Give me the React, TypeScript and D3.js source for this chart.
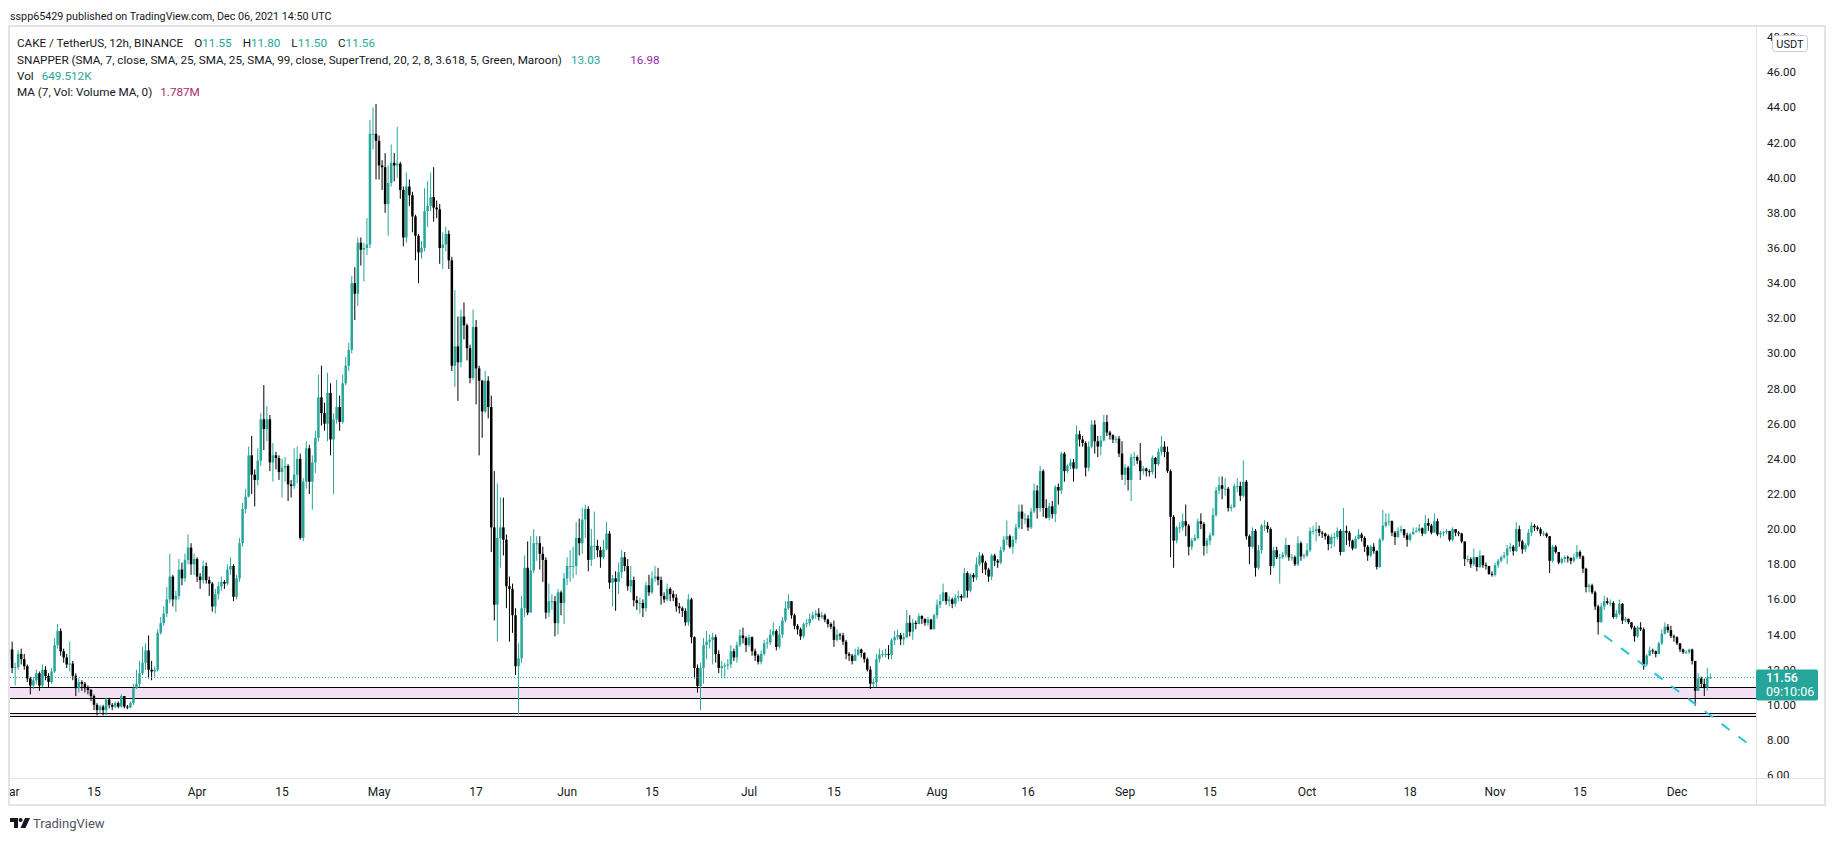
import { useEffect, useRef } from "react"
import * as d3 from "d3"

const WIDTH = 1834
const HEIGHT = 841

// CAKE / USDT 12h candles, oldest first. Last bar opens Dec 06 2021 12:00 UTC.
const lastBarTime = "2021-12-06T12:00:00Z"
const firstOpen = 12.6

const closes = [
  13.15, 12.1, 12.15, 12.9, 12.6, 12.2, 11.5, 11.1, 11.4, 11.8,
  11.1, 12.0, 11.65, 11.3, 11.9, 13.4, 14.2, 13.05, 12.7, 12.3,
  12.35, 11.65, 10.95, 11.3, 11.2, 10.95, 10.85, 10.5, 10.0, 9.7,
  9.9, 9.7, 10.3, 10.0, 9.9, 10.1, 9.9, 10.5, 9.9, 9.85,
  10.1, 10.95, 11.2, 11.8, 12.4, 13.1, 12.0, 11.9, 12.0, 14.1,
  14.65, 15.2, 16.0, 17.3, 16.0, 16.2, 17.7, 17.2, 18.25, 18.95,
  18.0, 18.3, 17.3, 17.1, 17.9, 17.1, 16.9, 15.6, 16.3, 16.75,
  17.0, 16.9, 17.7, 17.9, 16.15, 17.2, 19.2, 21.15, 21.85, 24.2,
  23.1, 22.8, 23.9, 26.25, 25.7, 26.25, 23.8, 24.2, 24.05, 23.25,
  23.5, 23.6, 22.55, 22.45, 23.1, 24.0, 19.5, 22.7, 24.6, 22.7,
  23.8, 25.2, 27.5, 26.6, 26.0, 27.75, 25.1, 26.25, 26.95, 26.1,
  28.3, 29.3, 30.2, 34.0, 33.4, 36.3, 35.9, 36.0, 36.2, 42.5,
  42.5, 42.1, 40.7, 40.6, 38.5, 39.7, 40.85, 40.7, 40.8, 39.3,
  36.6, 39.5, 39.0, 37.8, 36.7, 35.75, 36.0, 38.1, 38.4, 38.9,
  38.3, 38.2, 36.0, 36.2, 36.8, 35.3,
  // May - July
  29.3, 30.4, 29.5, 32.1, 31.6, 30.3, 28.6, 31.5, 29.15, 28.45,
  26.7, 28.45, 26.95, 20.1, 15.7, 19.5, 20.1, 19.4, 16.75, 16.6,
  15.1, 12.2, 12.65, 15.5, 17.8, 15.25, 17.65, 19.2, 19.2, 18.6,
  18.25, 15.25, 15.9, 15.9, 14.65, 16.4, 15.8, 17.2, 17.9, 17.9,
  17.9, 19.5, 19.2, 20.55, 21.15, 18.25, 19.05, 19.05, 18.8, 18.4,
  18.85, 19.75, 16.95, 17.2, 17.0, 17.55, 18.4, 17.9, 16.75, 17.1,
  15.95, 15.8, 15.8, 15.5, 16.8, 16.4, 17.2, 17.3, 17.1, 16.2,
  16.0, 16.6, 16.3, 16.1, 15.6, 15.5, 15.35, 14.7, 16.0, 13.85,
  12.1, 11.07, 12.1, 13.4, 13.6, 13.7, 13.85, 12.9, 12.1, 12.2,
  12.25, 12.3, 13.05, 12.7, 13.4, 13.95, 13.8, 13.4, 13.85, 13.05,
  12.8, 12.45, 12.9, 13.5, 13.55, 14.0, 14.2, 13.3, 14.0, 14.8,
  15.5, 15.9, 15.1, 14.5, 14.3, 13.9, 14.6, 14.65, 14.9, 15.1,
  15.2, 15.0, 15.1, 14.85, 14.6, 14.45, 13.7, 14.0, 13.95, 13.6,
  12.9, 12.8, 12.5, 12.85, 13.15, 12.95, 12.6, 12.0, 11.2, 11.3,
  // late July - October
  12.6, 12.87, 12.9, 12.9, 12.85, 13.67, 13.85, 13.97, 13.73, 13.85,
  14.67, 14.16, 14.67, 14.6, 15.05, 14.9, 14.67, 14.85, 14.3, 15.1,
  15.7, 15.9, 16.4, 15.9, 16.0, 15.75, 16.1, 16.2, 16.1, 17.5,
  16.5, 17.4, 17.25, 18.0, 18.5, 18.1, 17.7, 17.3, 18.5, 18.2,
  18.1, 18.8, 19.4, 19.6, 19.0, 19.4, 20.1, 21.0, 20.6, 20.6,
  20.1, 21.0, 22.2, 21.2, 23.3, 21.2, 20.65, 21.3, 20.85, 22.4,
  22.2, 24.3, 23.3, 23.6, 23.8,
  23.45, 25.4, 25.1, 24.9, 23.5, 24.7, 25.95, 25.0, 24.7, 25.05,
  26.1, 25.5, 25.35, 25.1, 25.15, 24.3, 23.1, 23.5, 22.8, 24.1,
  24.1, 23.9, 23.3, 23.45, 23.3, 23.25, 24.05, 23.7, 24.4, 24.7,
  24.4, 23.3, 20.7, 19.35, 20.1, 20.1, 20.45, 20.2, 19.0, 19.35,
  19.5, 20.45, 20.3, 19.05, 19.35, 19.65, 20.8, 22.2, 22.5, 22.3,
  22.3, 21.2, 21.25, 22.45, 22.45, 21.9, 22.7, 19.6, 19.0, 19.9,
  17.8, 18.8, 20.2, 20.2, 20.0, 17.9, 18.8, 18.4, 18.4, 18.55,
  19.1, 18.4, 18.4, 18.0, 19.2, 18.45, 18.5, 18.8, 19.9,
  // October - December
  19.9, 20.0, 19.8, 19.75, 19.6, 19.15, 19.55, 19.55, 19.9, 18.7,
  19.9, 19.8, 19.35, 18.9, 19.45, 19.7, 19.5, 19.0, 18.5, 19.0,
  18.75, 17.85, 19.4, 20.2, 20.4, 20.45, 19.8, 19.55, 19.9, 20.0, 19.65,
  19.4, 19.7, 19.85, 19.9, 20.05, 19.75, 20.35, 20.2, 19.8, 20.45,
  19.7, 19.8, 19.85, 19.9, 19.4, 20.0, 19.8, 19.75,
  19.3, 18.3, 18.3, 18.0, 18.4, 17.85, 18.5, 17.95, 17.9, 17.45, 17.4, 17.95, 18.2, 18.4,
  18.5, 18.9, 19.0, 18.75, 20.0, 19.3, 18.85, 19.1, 19.8, 20.2,
  20.1, 20.0, 19.75, 19.75, 19.6, 18.2, 19.0, 18.7, 18.1, 18.3,
  18.4, 18.35, 18.2, 18.4, 18.7, 18.45, 17.75, 16.7, 16.8, 16.4,
  15.6, 14.7, 15.6, 15.9, 15.8, 15.8, 15.0, 15.2, 15.75, 14.8,
  14.9, 14.7, 14.4, 13.9, 14.4, 14.3, 12.3, 12.8, 13.1, 13.05,
  12.9, 13.5, 14.05, 14.45, 14.25, 13.9, 13.85, 13.5, 13.15, 13.0,
  13.0, 13.15, 12.5, 10.8, 11.5, 11.2, 11.0, 11.55, 11.56,
]

const highs = [
  13.4, 13.6, 12.4, 13.1, 13.2, 12.9, 12.3, 11.6, 11.6, 12.0,
  11.9, 12.3, 12.2, 11.8, 12.1, 13.8, 14.6, 14.35, 13.2, 12.9,
  13.6, 12.5, 11.8, 11.5, 11.4, 11.3, 11.1, 10.9, 10.6, 10.1,
  10.0, 10.0, 10.4, 10.4, 10.1, 10.2, 10.2, 10.6, 10.5, 10.0,
  10.2, 11.2, 12.0, 12.5, 13.3, 13.5, 13.95, 12.5, 12.2, 14.3,
  15.0, 15.6, 16.7, 18.6, 17.4, 16.5, 18.3, 18.1, 18.6, 19.7,
  19.2, 18.6, 18.4, 17.5, 18.2, 18.1, 17.3, 17.0, 16.6, 17.0,
  17.3, 17.1, 18.0, 18.4, 18.0, 17.4, 19.5, 21.5, 22.3, 24.7,
  25.3, 23.4, 24.6, 26.6, 28.2, 27.0, 26.5, 24.9, 24.4, 24.2,
  24.0, 24.1, 23.7, 22.8, 24.6, 24.7, 24.3, 22.9, 25.0, 24.8,
  24.2, 25.6, 28.8, 29.3, 27.2, 28.9, 28.3, 26.6, 28.5, 27.6,
  28.8, 29.8, 30.6, 34.4, 34.9, 36.6, 36.6, 36.3, 37.7, 43.3,
  44.0, 44.2, 42.4, 41.0, 41.4, 40.7, 41.9, 41.4, 42.9, 40.9,
  39.5, 40.3, 39.9, 39.2, 37.9, 36.8, 36.4, 39.4, 39.8, 40.3,
  40.6, 38.7, 38.5, 36.9, 37.2, 37.0,
  35.5, 33.6, 32.1, 32.5, 32.9, 31.7, 30.5, 32.5, 31.9, 29.3,
  28.5, 29.0, 28.7, 27.6, 23.3, 22.6, 21.8, 21.8, 19.7, 17.3,
  16.9, 15.5, 13.5, 16.2, 18.5, 19.3, 19.6, 20.0, 19.6, 19.6,
  19.0, 18.4, 16.9, 16.3, 16.2, 16.6, 16.5, 17.5, 18.4, 18.8,
  19.0, 20.4, 20.6, 21.2, 21.4, 21.3, 20.0, 21.0, 19.4, 19.0,
  19.4, 20.4, 19.9, 17.4, 17.6, 18.1, 18.8, 18.7, 18.3, 17.9,
  17.3, 16.2, 16.1, 16.0, 17.0, 17.4, 17.6, 17.9, 17.8, 17.3,
  16.4, 16.9, 16.7, 16.5, 16.3, 15.8, 15.6, 15.5, 16.3, 16.1,
  13.9, 12.3, 12.4, 13.8, 14.2, 14.0, 14.1, 14.0, 13.1, 12.5,
  12.4, 12.6, 13.4, 13.2, 13.6, 14.3, 14.4, 13.9, 14.0, 13.9,
  13.2, 12.9, 13.1, 13.7, 13.8, 14.3, 14.7, 14.3, 14.5, 15.0,
  15.9, 16.3, 15.9, 15.2, 14.6, 14.4, 14.7, 14.9, 15.2, 15.3,
  15.4, 15.5, 15.3, 15.2, 14.9, 14.7, 14.8, 14.3, 14.1, 14.1,
  13.7, 13.0, 12.9, 13.2, 13.3, 13.2, 13.0, 12.7, 12.2, 11.5,
  12.9, 13.2, 13.1, 13.2, 13.4, 13.8, 14.2, 14.3, 14.1, 14.1,
  15.4, 15.1, 14.9, 14.8, 15.2, 15.1, 14.9, 15.0, 14.9, 15.2,
  16.0, 16.3, 16.9, 16.4, 16.2, 16.1, 16.3, 16.5, 16.3, 17.8,
  17.6, 17.5, 17.5, 18.4, 18.7, 18.6, 18.2, 17.8, 18.6, 18.6,
  18.3, 19.0, 19.6, 20.5, 19.7, 19.6, 20.3, 21.4, 21.4, 20.9,
  20.8, 21.2, 22.6, 22.5, 23.6, 23.4, 21.7, 21.5, 21.6, 22.5,
  22.6, 24.4, 24.4, 23.7, 24.0,
  24.0, 25.9, 25.6, 25.3, 25.0, 25.0, 26.2, 26.2, 25.3, 25.3,
  26.5, 26.5, 25.6, 25.4, 25.3, 25.3, 25.0, 23.7, 23.6, 24.3,
  24.4, 24.2, 24.9, 23.6, 23.5, 23.4, 24.2, 24.1, 24.6, 25.3,
  25.0, 24.7, 23.4, 20.8, 20.2, 20.4, 20.9, 21.4, 20.3, 19.5,
  19.7, 20.6, 20.9, 20.4, 19.5, 19.8, 21.2, 22.4, 23.0, 23.0,
  22.9, 22.4, 21.4, 22.6, 22.9, 22.7, 23.9, 22.8, 19.7, 20.1,
  20.0, 19.1, 20.3, 20.5, 20.4, 20.1, 19.0, 19.0, 18.6, 18.7,
  19.5, 19.1, 18.6, 18.5, 19.6, 19.3, 18.6, 19.2, 20.1,
  20.2, 20.4, 20.2, 19.9, 19.8, 19.7, 19.7, 19.8, 20.1, 20.0,
  21.2, 20.2, 19.9, 19.4, 19.6, 20.0, 19.8, 19.6, 19.1, 19.1,
  19.2, 18.8, 19.5, 21.1, 20.9, 20.9, 20.5, 19.9, 20.1, 20.2, 20.0,
  19.8, 19.8, 20.1, 20.1, 20.3, 20.1, 20.8, 20.6, 20.3, 20.9,
  20.6, 19.9, 19.9, 20.0, 19.9, 20.1, 20.0, 19.9,
  19.8, 19.3, 18.5, 18.4, 18.9, 18.4, 18.8, 18.5, 18.1, 17.9, 17.6, 18.1, 18.3, 18.5,
  18.7, 19.1, 19.2, 19.1, 20.4, 20.2, 19.4, 19.2, 20.0, 20.4,
  20.3, 20.2, 20.1, 19.9, 19.8, 19.6, 19.1, 19.1, 18.7, 18.4,
  18.5, 18.5, 18.4, 18.6, 19.1, 18.8, 18.5, 17.8, 16.9, 16.9,
  16.5, 15.7, 15.8, 16.2, 16.1, 16.0, 15.9, 15.4, 16.0, 15.8,
  15.0, 14.9, 14.7, 14.5, 14.5, 14.7, 14.4, 12.9, 13.3, 13.2,
  13.1, 13.6, 14.3, 14.7, 14.6, 14.5, 14.0, 13.9, 13.5, 13.2,
  13.1, 13.2, 13.2, 12.5, 11.8, 11.6, 11.5, 12.1, 11.8,
]

const lows = [
  11.9, 11.8, 11.1, 12.0, 12.3, 12.0, 11.3, 10.6, 10.9, 11.2,
  10.8, 11.0, 11.4, 11.0, 11.2, 11.8, 13.2, 12.8, 12.4, 12.1,
  11.9, 11.4, 10.5, 10.7, 10.8, 10.7, 10.6, 10.2, 9.7, 9.4,
  9.5, 9.4, 9.4, 9.8, 9.7, 9.8, 9.8, 9.85, 9.8, 9.75,
  9.8, 10.0, 10.9, 11.0, 11.7, 12.0, 11.5, 11.4, 11.6, 11.9,
  14.0, 14.5, 15.0, 15.8, 15.6, 15.3, 16.0, 16.8, 17.0, 18.0,
  17.4, 17.4, 17.0, 16.6, 16.9, 16.9, 16.2, 15.3, 15.2, 16.0,
  16.5, 16.6, 16.8, 17.4, 15.9, 16.0, 17.0, 19.0, 20.9, 21.8,
  22.0, 21.3, 22.5, 23.6, 24.5, 25.0, 23.3, 22.7, 23.4, 22.8,
  21.8, 22.7, 21.6, 21.8, 22.3, 22.6, 19.4, 19.3, 22.3, 22.0,
  21.1, 23.2, 25.0, 25.9, 25.6, 25.0, 24.2, 22.0, 26.0, 25.6,
  26.0, 28.2, 29.0, 30.0, 31.9, 32.7, 35.0, 34.1, 35.6, 36.0,
  41.6, 39.9, 39.9, 39.3, 38.0, 36.7, 39.5, 39.8, 40.0, 38.8,
  36.1, 36.3, 38.4, 36.9, 35.3, 34.0, 35.4, 35.8, 37.2, 38.1,
  37.5, 37.7, 35.1, 34.8, 35.8, 34.8,
  29.0, 28.1, 27.3, 29.2, 30.8, 29.6, 28.3, 28.5, 27.1, 24.2,
  25.2, 26.6, 26.3, 18.7, 14.8, 13.6, 17.8, 18.5, 15.5, 13.6,
  14.1, 11.7, 9.45, 12.4, 15.0, 15.1, 15.4, 17.5, 18.2, 17.7,
  17.0, 14.9, 15.0, 15.4, 13.9, 14.0, 15.1, 14.6, 16.8, 17.0,
  17.2, 17.4, 18.5, 18.6, 19.5, 17.6, 17.9, 18.3, 18.4, 17.8,
  18.3, 18.8, 16.6, 15.6, 15.35, 16.3, 17.2, 17.6, 16.5, 16.4,
  15.6, 15.4, 15.2, 15.0, 15.3, 16.2, 16.3, 17.0, 16.8, 15.7,
  15.8, 15.9, 15.9, 15.9, 15.3, 15.2, 15.0, 14.5, 14.5, 13.5,
  11.5, 10.7, 9.7, 11.2, 12.6, 13.2, 12.3, 12.4, 11.8, 11.5,
  11.5, 12.0, 12.1, 12.5, 12.4, 13.3, 13.5, 13.0, 13.3, 12.8,
  12.5, 12.3, 12.3, 12.8, 13.2, 13.4, 13.9, 13.1, 13.2, 13.8,
  14.7, 15.4, 14.9, 14.3, 14.0, 13.7, 13.8, 14.4, 14.5, 14.8,
  14.9, 14.8, 14.9, 14.7, 14.4, 14.3, 13.3, 13.6, 13.7, 13.4,
  12.6, 12.5, 12.3, 12.6, 12.8, 12.7, 12.4, 11.9, 10.9, 11.0,
  11.0, 12.4, 12.7, 12.7, 12.6, 12.6, 13.4, 13.7, 13.4, 13.4,
  13.8, 13.9, 13.7, 14.3, 14.6, 14.6, 14.5, 14.5, 14.3, 14.3,
  14.9, 15.5, 15.9, 15.7, 15.6, 15.5, 15.6, 15.9, 15.9, 16.1,
  16.1, 16.4, 17.0, 17.1, 17.9, 17.5, 17.4, 17.0, 17.1, 17.9,
  17.8, 18.0, 18.7, 19.1, 18.9, 18.6, 19.2, 20.0, 20.0, 20.3,
  19.9, 20.0, 20.9, 20.6, 21.0, 20.7, 20.6, 20.5, 20.6, 20.4,
  21.4, 22.0, 22.7, 23.2, 23.4,
  22.7, 23.4, 24.7, 24.7, 23.0, 23.3, 24.6, 24.3, 24.1, 24.2,
  25.0, 25.3, 25.1, 24.9, 24.9, 24.1, 22.8, 22.5, 22.2, 21.6,
  23.6, 23.7, 22.8, 23.1, 23.0, 23.0, 23.1, 22.9, 23.6, 24.2,
  24.1, 23.2, 18.4, 17.8, 19.2, 19.8, 19.9, 19.6, 18.5, 18.8,
  19.3, 19.4, 20.0, 18.5, 18.6, 19.1, 19.6, 20.7, 22.0, 21.7,
  21.9, 21.0, 21.0, 21.2, 22.1, 21.6, 21.8, 19.4, 18.0, 18.9,
  17.3, 17.7, 18.6, 19.9, 19.8, 17.4, 17.8, 18.3, 16.9, 18.3,
  18.4, 18.2, 18.2, 17.9, 17.9, 18.2, 18.3, 18.4, 18.7,
  19.7, 19.3, 19.6, 19.5, 19.4, 18.8, 18.9, 19.0, 19.4, 18.5,
  18.7, 19.1, 19.0, 18.8, 18.9, 19.4, 19.3, 18.7, 18.2, 18.4,
  18.6, 17.7, 17.8, 19.3, 20.1, 20.2, 19.6, 19.1, 19.5, 19.8, 19.5,
  19.0, 19.3, 19.7, 19.8, 19.8, 19.6, 19.7, 19.9, 19.7, 19.8,
  19.6, 19.5, 19.6, 19.7, 19.3, 19.3, 19.6, 19.6,
  19.2, 17.9, 18.1, 17.8, 17.9, 17.6, 17.8, 17.8, 17.7, 17.4, 17.3, 17.3, 17.8, 18.1,
  18.3, 18.0, 18.7, 18.5, 18.7, 19.0, 18.6, 18.7, 19.0, 19.6,
  19.9, 19.9, 19.6, 19.6, 19.5, 17.5, 18.1, 18.6, 18.0, 18.0,
  18.1, 18.1, 18.0, 18.1, 18.3, 18.3, 17.5, 16.4, 16.4, 16.3,
  15.4, 14.0, 14.7, 15.4, 15.7, 15.6, 14.9, 14.9, 15.1, 14.6,
  14.7, 14.6, 14.3, 13.6, 13.8, 14.2, 12.0, 12.2, 12.8, 12.9,
  12.7, 12.9, 13.4, 14.0, 14.1, 13.8, 13.6, 13.4, 13.0, 12.9,
  12.9, 12.9, 12.3, 9.95, 10.8, 11.0, 10.5, 10.8, 11.5,
]

const priceTicks = [6, 8, 10, 12, 14, 16, 18, 20, 22, 24, 26, 28, 30, 32, 34, 36, 38, 40, 42, 44, 46, 48]

const timeTicks: [string, string][] = [
  ["2021-03-01", "Mar"], ["2021-03-15", "15"], ["2021-04-01", "Apr"], ["2021-04-15", "15"],
  ["2021-05-01", "May"], ["2021-05-17", "17"], ["2021-06-01", "Jun"], ["2021-06-15", "15"],
  ["2021-07-01", "Jul"], ["2021-07-15", "15"], ["2021-08-01", "Aug"], ["2021-08-16", "16"],
  ["2021-09-01", "Sep"], ["2021-09-15", "15"], ["2021-10-01", "Oct"], ["2021-10-18", "18"],
  ["2021-11-01", "Nov"], ["2021-11-15", "15"], ["2021-12-01", "Dec"],
]

// drawn rectangles (support zones) and the dashed trend line
const zones = [
  [10.37, 11.0],
  [9.35, 9.52],
]
const trendPoints = [
  { date: "2021-11-19T00:00:00Z", price: 13.95 },
  { date: "2021-12-13T10:00:00Z", price: 7.6 },
]

const lastPrice = 11.56
const countdown = "09:10:06"

const UP = "#26a69a"
const DOWN = "#000000"
const TEXT = "#131722"
const BORDER = "#e0e3eb"
const FONT = "Roboto, 'Noto Sans', sans-serif"

interface Candle {
  date: Date
  o: number
  h: number
  l: number
  c: number
}

const App = () => {
  const svgRef = useRef<SVGSVGElement | null>(null)

  useEffect(() => {
    if (!svgRef.current) return
    const svg = d3.select(svgRef.current)
    svg.selectAll("*").remove()

    const plot = { left: 10, right: 1756, top: 27, bottom: 778 }

    const x = d3
      .scaleUtc()
      .domain([new Date("2021-03-15T00:00:00Z"), new Date("2021-12-01T00:00:00Z")])
      .range([94, 1677])
    const y = d3.scaleLinear().domain([8, 46]).range([740, 72.3])

    const n = Math.min(closes.length, highs.length, lows.length)
    const lastT = new Date(lastBarTime).getTime()
    const candles: Candle[] = closes.slice(0, n).map((c, i) => {
      const o = i === 0 ? firstOpen : closes[i - 1]
      return {
        date: new Date(lastT - (n - 1 - i) * 12 * 3600 * 1000),
        o,
        c,
        h: Math.max(highs[i], o, c),
        l: Math.min(lows[i], o, c),
      }
    })

    svg.append("rect").attr("width", WIDTH).attr("height", HEIGHT).attr("fill", "#fff")

    // header
    const header = svg
      .append("text")
      .attr("x", 10)
      .attr("y", 19.5)
      .attr("font-family", FONT)
      .attr("font-size", 12)
      .attr("fill", TEXT)
      .text("sspp65429 published on TradingView.com, Dec 06, 2021 14:50 UTC")
    const headerLen = (header.node() as SVGTextElement).getComputedTextLength() || 350
    header.attr("font-size", (12 * 322) / headerLen)
    const fs = (12 * 350) / headerLen

    // clip for plot area
    svg
      .append("clipPath")
      .attr("id", "plot-clip")
      .append("rect")
      .attr("x", plot.left)
      .attr("y", plot.top)
      .attr("width", plot.right - plot.left)
      .attr("height", plot.bottom - plot.top)

    const g = svg.append("g").attr("clip-path", "url(#plot-clip)")

    // zones
    zones.forEach(([lo, hi]) => {
      g.append("rect")
        .attr("x", plot.left)
        .attr("y", y(hi))
        .attr("width", plot.right - plot.left)
        .attr("height", y(lo) - y(hi))
        .attr("fill", "#f1e1f3")
      ;[lo, hi].forEach((p) => {
        g.append("line")
          .attr("x1", plot.left)
          .attr("x2", plot.right)
          .attr("y1", Math.round(y(p)) + 0.5)
          .attr("y2", Math.round(y(p)) + 0.5)
          .attr("stroke", "#000")
          .attr("stroke-width", 1.2)
      })
    })

    // wicks
    g.selectAll(".wick")
      .data(candles)
      .join("line")
      .attr("class", "wick")
      .attr("x1", (d) => x(d.date))
      .attr("x2", (d) => x(d.date))
      .attr("y1", (d) => y(d.h))
      .attr("y2", (d) => y(d.l))
      .attr("stroke", (d) => (d.c >= d.o ? UP : DOWN))
      .attr("stroke-width", 1)

    // bodies
    const bw = 2.5
    g.selectAll(".body")
      .data(candles)
      .join("rect")
      .attr("class", "body")
      .attr("x", (d) => x(d.date) - bw / 2)
      .attr("y", (d) => y(Math.max(d.o, d.c)))
      .attr("width", bw)
      .attr("height", (d) => Math.max(1, Math.abs(y(d.o) - y(d.c))))
      .attr("fill", (d) => (d.c >= d.o ? UP : DOWN))

    // last price dotted line
    g.append("line")
      .attr("x1", plot.left)
      .attr("x2", plot.right)
      .attr("y1", y(lastPrice))
      .attr("y2", y(lastPrice))
      .attr("stroke", UP)
      .attr("stroke-width", 1)
      .attr("stroke-dasharray", "1 2")

    // dashed trend line
    const trend = d3
      .line<{ date: string; price: number }>()
      .x((d) => x(new Date(d.date)))
      .y((d) => y(d.price))
    g.append("path")
      .datum(trendPoints)
      .attr("d", trend)
      .attr("fill", "none")
      .attr("stroke", "#26c6da")
      .attr("stroke-width", 2)
      .attr("stroke-dasharray", "10 11")

    // frame
    svg
      .append("rect")
      .attr("x", 9)
      .attr("y", 26)
      .attr("width", 1816)
      .attr("height", 779)
      .attr("fill", "none")
      .attr("stroke", BORDER)
      .attr("stroke-width", 2)
    svg
      .append("line")
      .attr("x1", plot.right + 0.5)
      .attr("x2", plot.right + 0.5)
      .attr("y1", 26)
      .attr("y2", 805)
      .attr("stroke", BORDER)
    svg
      .append("line")
      .attr("x1", 9)
      .attr("x2", 1825)
      .attr("y1", plot.bottom + 0.5)
      .attr("y2", plot.bottom + 0.5)
      .attr("stroke", BORDER)

    // price axis
    svg
      .append("clipPath")
      .attr("id", "axis-clip")
      .append("rect")
      .attr("x", plot.right + 1)
      .attr("y", plot.top)
      .attr("width", 68)
      .attr("height", plot.bottom - plot.top)
    const ya = svg.append("g").attr("clip-path", "url(#axis-clip)")
    ya.selectAll("text")
      .data(priceTicks)
      .join("text")
      .attr("x", 1767)
      .attr("y", (d) => y(d) + 4)
      .attr("font-family", FONT)
      .attr("font-size", 11.5)
      .attr("fill", TEXT)
      .text((d) => d3.format(".2f")(d))

    // USDT badge
    svg
      .append("rect")
      .attr("x", 1772.5)
      .attr("y", 35.5)
      .attr("width", 35)
      .attr("height", 16)
      .attr("rx", 3)
      .attr("fill", "#fff")
      .attr("stroke", "#c9cbd1")
    svg
      .append("text")
      .attr("x", 1790)
      .attr("y", 47.5)
      .attr("text-anchor", "middle")
      .attr("font-family", FONT)
      .attr("font-size", 11)
      .attr("fill", TEXT)
      .text("USDT")

    // last price label
    svg
      .append("rect")
      .attr("x", plot.right)
      .attr("y", y(lastPrice) - 8)
      .attr("width", 62)
      .attr("height", 31)
      .attr("rx", 2)
      .attr("fill", UP)
    svg
      .append("text")
      .attr("x", 1766)
      .attr("y", y(lastPrice) + 5)
      .attr("font-family", FONT)
      .attr("font-size", 12.5)
      .attr("font-weight", 500)
      .attr("fill", "#fff")
      .text(d3.format(".2f")(lastPrice))
    svg
      .append("text")
      .attr("x", 1766)
      .attr("y", y(lastPrice) + 19)
      .attr("font-family", FONT)
      .attr("font-size", 12.5)
      .attr("fill", "#fff")
      .text(countdown)

    // time axis
    svg
      .append("clipPath")
      .attr("id", "time-clip")
      .append("rect")
      .attr("x", plot.left)
      .attr("y", plot.bottom)
      .attr("width", plot.right - plot.left)
      .attr("height", 27)
    svg
      .append("g")
      .attr("clip-path", "url(#time-clip)")
      .selectAll("text")
      .data(timeTicks)
      .join("text")
      .attr("x", (d) => x(new Date(d[0] + "T00:00:00Z")))
      .attr("y", 796)
      .attr("text-anchor", "middle")
      .attr("font-family", FONT)
      .attr("font-size", 12)
      .attr("fill", TEXT)
      .text((d) => d[1])

    // legend
    const legend = svg
      .append("g")
      .attr("font-family", FONT)
      .attr("font-size", fs)
      .attr("fill", TEXT)

    const row1 = legend.append("text").attr("x", 17).attr("y", 47)
    row1.append("tspan").text("CAKE / TetherUS, 12h, BINANCE")
    const ohlc: [string, string, number][] = [
      ["O", "11.55", 11],
      ["H", "11.80", 11],
      ["L", "11.50", 11],
      ["C", "11.56", 11],
    ]
    ohlc.forEach(([k, v, dx]) => {
      row1.append("tspan").attr("dx", dx).text(k)
      row1.append("tspan").attr("fill", UP).text(v)
    })

    const row2 = legend.append("text").attr("x", 17).attr("y", 63.5)
    row2
      .append("tspan")
      .text("SNAPPER (SMA, 7, close, SMA, 25, SMA, 25, SMA, 99, close, SuperTrend, 20, 2, 8, 3.618, 5, Green, Maroon)")
    row2.append("tspan").attr("dx", 9).attr("fill", "#22ab94").text("13.03")
    row2.append("tspan").attr("dx", 30).attr("fill", "#9c27b0").text("16.98")

    const row3 = legend.append("text").attr("x", 17).attr("y", 80)
    row3.append("tspan").text("Vol")
    row3.append("tspan").attr("dx", 8).attr("fill", UP).text("649.512K")

    const row4 = legend.append("text").attr("x", 17).attr("y", 96)
    row4.append("tspan").text("MA (7, Vol: Volume MA, 0)")
    row4.append("tspan").attr("dx", 8).attr("fill", "#a82a6b").text("1.787M")

    // TradingView logo
    const logo = svg.append("g").attr("transform", "translate(10,818)").attr("fill", TEXT)
    logo.append("path").attr("d", "M0 0H8V10H4V4H0Z")
    logo.append("circle").attr("cx", 10.6).attr("cy", 2).attr("r", 2)
    logo.append("path").attr("d", "M15 0H20L15.5 10H10.5Z")
    svg
      .append("text")
      .attr("x", 33)
      .attr("y", 828)
      .attr("font-family", FONT)
      .attr("font-size", 13)
      .attr("fill", "#50535e")
      .text("TradingView")
  }, [])

  return (
    <div style={{ position: "absolute", left: 0, top: 0, width: WIDTH, height: HEIGHT, background: "#fff" }}>
      <svg ref={svgRef} width={WIDTH} height={HEIGHT} style={{ display: "block" }} />
    </div>
  )
}

export default App
